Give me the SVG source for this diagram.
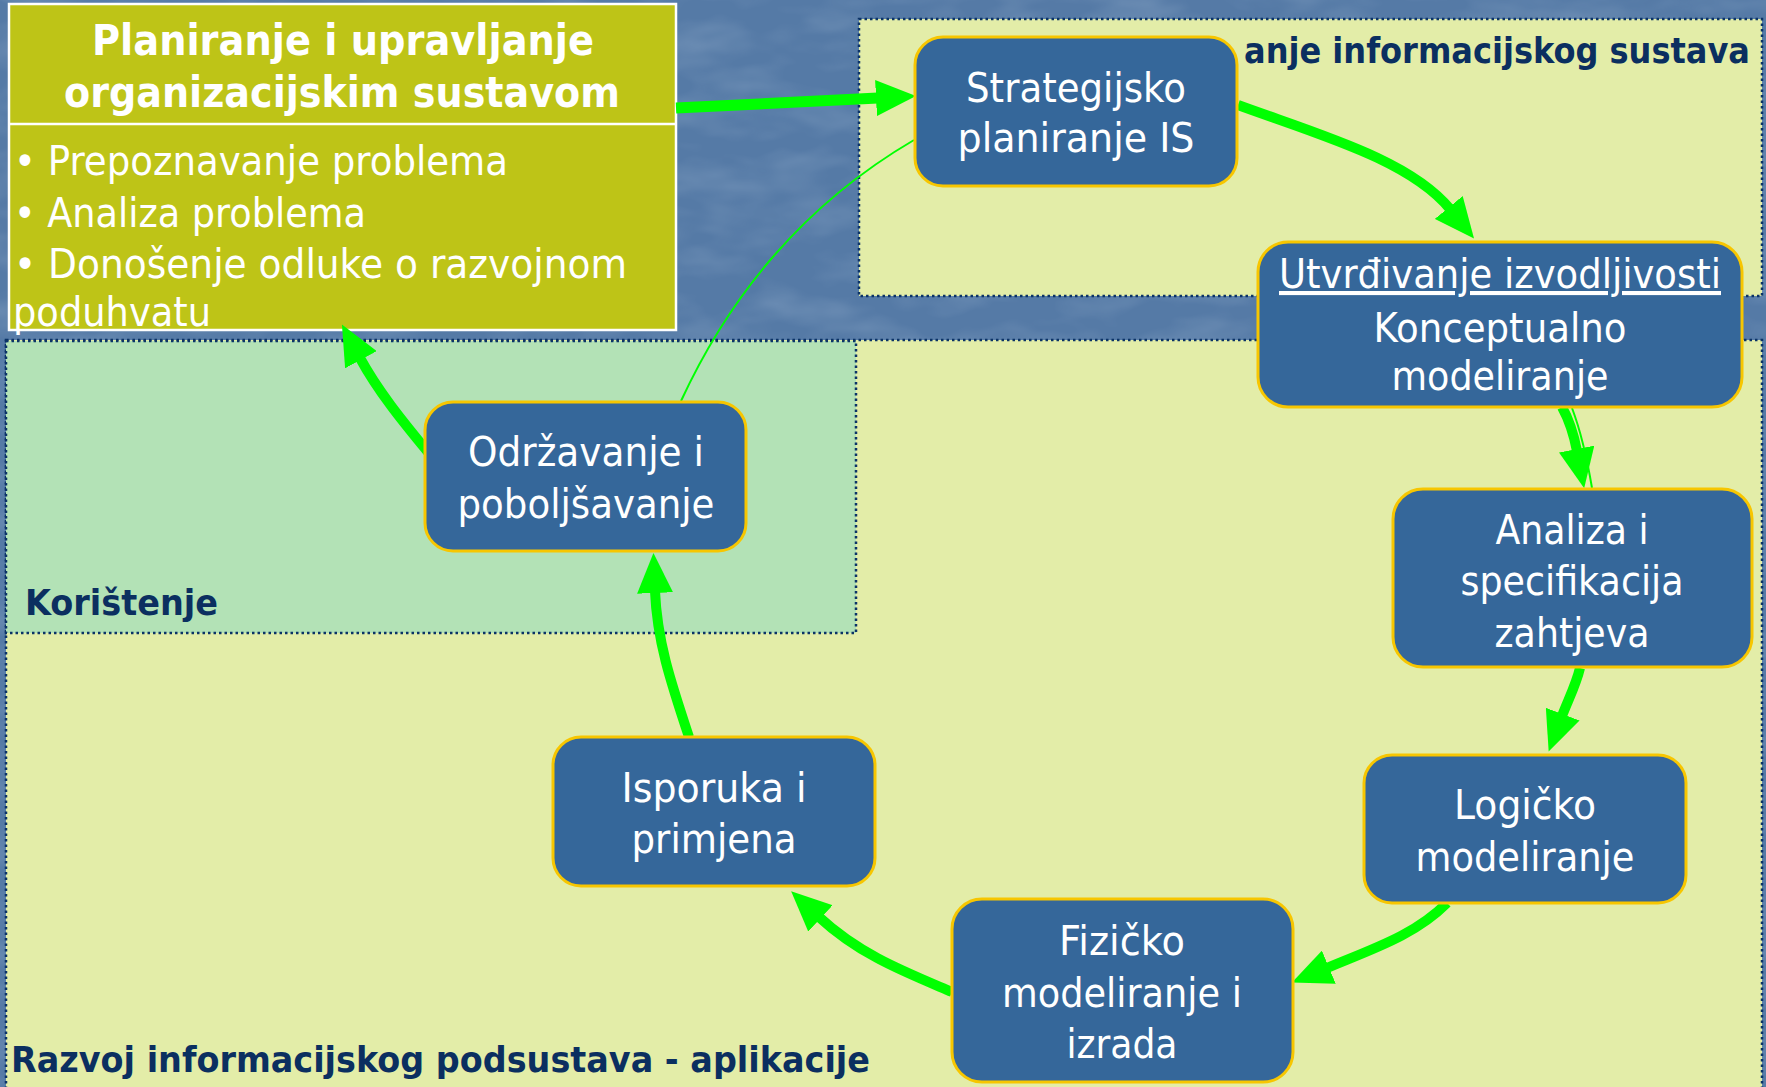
<svg xmlns="http://www.w3.org/2000/svg" width="1766" height="1087" viewBox="0 0 1766 1087">
<style>
.panelY{fill:#e3eda8;stroke:#0b3366;stroke-width:2.5;stroke-dasharray:2.5 3}
.panelG{fill:#b3e2b6;stroke:#0b3366;stroke-width:2.5;stroke-dasharray:2.5 3}
.ptitle{font-family:"DejaVu Sans","Liberation Sans",sans-serif;font-weight:bold;font-size:35px;fill:#0b2f60}
.node rect{fill:#35679a;stroke:#f7c600;stroke-width:3}
.node text{font-family:"DejaVu Sans","Liberation Sans",sans-serif;font-size:41px;fill:#ffffff;text-anchor:middle}
.olive{fill:#bec417;stroke:#ffffff;stroke-width:2.5}
.otitle{font-family:"DejaVu Sans","Liberation Sans",sans-serif;font-weight:bold;font-size:42px;fill:#ffffff;text-anchor:middle}
.obul{font-family:"DejaVu Sans","Liberation Sans",sans-serif;font-size:40px;fill:#ffffff}
.arr{fill:none;stroke:#00ff00;stroke-width:10;marker-end:url(#ah)}
.thin{fill:none;stroke:#00ff00;stroke-width:2}
</style>
<defs>
<marker id="ah" viewBox="0 0 40 36" refX="2" refY="18" markerWidth="40" markerHeight="36" markerUnits="userSpaceOnUse" orient="auto">
<path d="M0,0 L40,18 L0,36 z" fill="#00ff00"/>
</marker>
<filter id="mottle" x="0" y="0" width="100%" height="100%">
<feTurbulence type="fractalNoise" baseFrequency="0.012 0.03" numOctaves="3" seed="7"/>
<feColorMatrix type="matrix" values="0 0 0 0 0.75  0 0 0 0 0.85  0 0 0 0 0.95  0 0 0 0.9 -0.35"/>
</filter>
</defs>
<rect x="0" y="0" width="1766" height="1087" fill="#557aa6"/>
<rect x="0" y="0" width="1766" height="1087" filter="url(#mottle)" opacity="0.35"/>

<g id="panel-razvoj">
<rect class="panelY" x="6" y="340" width="1756" height="780"/>
<text class="ptitle" x="11" y="1072" textLength="859" lengthAdjust="spacingAndGlyphs">Razvoj informacijskog podsustava - aplikacije</text>
</g>
<g id="panel-koristenje">
<rect class="panelG" x="6" y="341" width="850" height="292"/>
<text class="ptitle" x="25" y="615" textLength="193" lengthAdjust="spacingAndGlyphs">Korištenje</text>
</g>
<g id="panel-planiranje-is">
<rect class="panelY" x="859" y="19" width="903" height="277"/>
<text class="ptitle" x="1244" y="63" textLength="506" lengthAdjust="spacingAndGlyphs">anje informacijskog sustava</text>
</g>

<g id="planiranje-organizacijski">
<rect class="olive" x="9" y="4" width="667" height="326"/>
<line x1="9" y1="124" x2="676" y2="124" stroke="#ffffff" stroke-width="2.5"/>
<text class="otitle" x="343" y="55" textLength="502" lengthAdjust="spacingAndGlyphs">Planiranje i upravljanje</text>
<text class="otitle" x="342" y="107" textLength="556" lengthAdjust="spacingAndGlyphs">organizacijskim sustavom</text>
<text class="obul" x="14" y="175" textLength="494" lengthAdjust="spacingAndGlyphs">• Prepoznavanje problema</text>
<text class="obul" x="14" y="227" textLength="352" lengthAdjust="spacingAndGlyphs">• Analiza problema</text>
<text class="obul" x="14" y="278" textLength="613" lengthAdjust="spacingAndGlyphs">• Donošenje odluke o razvojnom</text>
<text class="obul" x="13" y="326" textLength="198" lengthAdjust="spacingAndGlyphs">poduhvatu</text>
</g>

<g id="connectors">
<path class="arr" d="M676,108 L878,98" style="stroke-width:11"/>
<path class="arr" d="M1238,105 C1320,135 1410,160 1450,209"/>
<path class="arr" d="M1562,407 Q1572,425 1577,451"/>
<path class="thin" d="M1572,408 Q1584,440 1592,488"/>
<path class="arr" d="M1580,668 C1576,685 1568,700 1562,716"/>
<path class="arr" d="M1447,903 C1415,935 1375,948 1327,968"/>
<path class="arr" d="M952,992 C905,972 860,955 819,917"/>
<path class="arr" d="M689,737 C670,680 657,640 655,591"/>
<path class="arr" d="M432,457 C410,430 380,395 360,358"/>
<path class="thin" d="M681,401 Q760,230 914,140"/>
</g>

<g id="strategijsko" class="node">
<rect x="915" y="37" width="322" height="149" rx="28"/>
<text x="1076" y="102" textLength="220" lengthAdjust="spacingAndGlyphs">Strategijsko</text>
<text x="1076" y="152" textLength="237" lengthAdjust="spacingAndGlyphs">planiranje IS</text>
</g>
<g id="utvrdivanje" class="node">
<rect x="1258" y="242" width="484" height="165" rx="30"/>
<text x="1500" y="288" textLength="442" lengthAdjust="spacingAndGlyphs" text-decoration="underline">Utvrđivanje izvodljivosti</text>
<text x="1500" y="342" textLength="253" lengthAdjust="spacingAndGlyphs">Konceptualno</text>
<text x="1500" y="390" textLength="217" lengthAdjust="spacingAndGlyphs">modeliranje</text>
</g>
<g id="analiza" class="node">
<rect x="1393" y="489" width="359" height="178" rx="30"/>
<text x="1572" y="544" textLength="153" lengthAdjust="spacingAndGlyphs">Analiza i</text>
<text x="1572" y="595" textLength="223" lengthAdjust="spacingAndGlyphs">specifikacija</text>
<text x="1572" y="647" textLength="155" lengthAdjust="spacingAndGlyphs">zahtjeva</text>
</g>
<g id="logicko" class="node">
<rect x="1364" y="755" width="322" height="148" rx="28"/>
<text x="1525" y="819" textLength="142" lengthAdjust="spacingAndGlyphs">Logičko</text>
<text x="1525" y="871" textLength="219" lengthAdjust="spacingAndGlyphs">modeliranje</text>
</g>
<g id="fizicko" class="node">
<rect x="952" y="899" width="341" height="183" rx="30"/>
<text x="1122" y="955" textLength="126" lengthAdjust="spacingAndGlyphs">Fizičko</text>
<text x="1122" y="1007" textLength="240" lengthAdjust="spacingAndGlyphs">modeliranje i</text>
<text x="1122" y="1058" textLength="111" lengthAdjust="spacingAndGlyphs">izrada</text>
</g>
<g id="isporuka" class="node">
<rect x="553" y="737" width="322" height="149" rx="28"/>
<text x="714" y="802" textLength="185" lengthAdjust="spacingAndGlyphs">Isporuka i</text>
<text x="714" y="853" textLength="165" lengthAdjust="spacingAndGlyphs">primjena</text>
</g>
<g id="odrzavanje" class="node">
<rect x="425" y="402" width="321" height="149" rx="28"/>
<text x="586" y="466" textLength="236" lengthAdjust="spacingAndGlyphs">Održavanje i</text>
<text x="586" y="518" textLength="257" lengthAdjust="spacingAndGlyphs">poboljšavanje</text>
</g>
</svg>
